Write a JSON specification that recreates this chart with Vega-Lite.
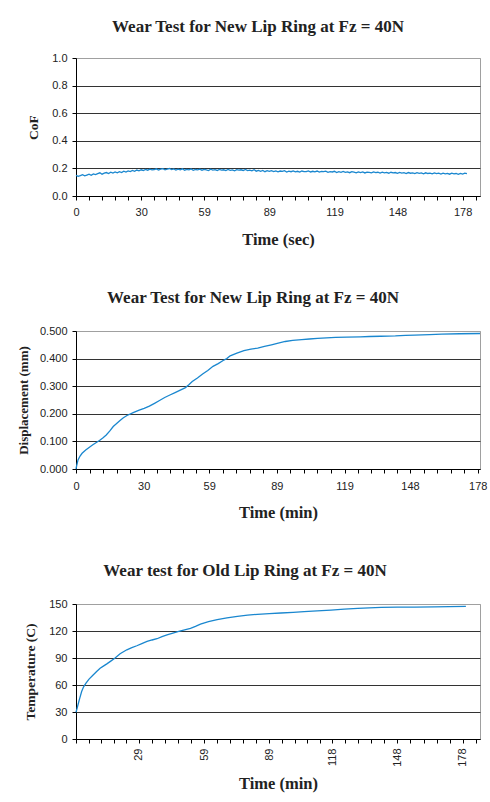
{
  "$schema": "https://vega.github.io/schema/vega-lite/v6.json",
  "padding": {"left": 16, "top": 17, "right": 0, "bottom": 0},
  "background": "white",
  "columns": 1,
  "spacing": 40,
  "config": {
    "view": {"stroke": "#a0a0a0", "strokeWidth": 1},
    "axis": {"labelFont": "Liberation Sans", "labelFontSize": 11, "labelColor": "#222", "titleFont": "Liberation Serif", "titleFontWeight": "bold", "titleColor": "#222", "domainColor": "#000", "tickColor": "#000", "tickSize": 4, "gridColor": "#333", "gridOpacity": 1, "labelFlush": false, "labelOverlap": false},
    "axisX": {"titleFontSize": 16.5, "grid": false},
    "axisY": {"titleFontSize": 13.5, "grid": true},
    "title": {"font": "Liberation Serif", "fontSize": 17, "fontWeight": "bold", "color": "#222"}
  },
  "concat": [
    {
      "width": 404, "height": 138,
      "title": {"text": "Wear Test for New Lip Ring at Fz = 40N", "offset": 16, "dx": -20},
      "data": {"values": [
        {"t":0,"v":0.150},{"t":1,"v":0.142},{"t":2,"v":0.148},{"t":3,"v":0.155},{"t":4,"v":0.146},{"t":5,"v":0.152},{"t":6,"v":0.158},{"t":7,"v":0.150},{"t":8,"v":0.160},{"t":9,"v":0.155},
        {"t":10,"v":0.162},{"t":11,"v":0.168},{"t":12,"v":0.158},{"t":13,"v":0.165},{"t":14,"v":0.170},{"t":15,"v":0.163},{"t":16,"v":0.172},{"t":17,"v":0.166},{"t":18,"v":0.174},{"t":19,"v":0.168},
        {"t":20,"v":0.176},{"t":21,"v":0.170},{"t":22,"v":0.180},{"t":23,"v":0.174},{"t":24,"v":0.182},{"t":25,"v":0.177},{"t":26,"v":0.185},{"t":27,"v":0.179},{"t":28,"v":0.188},{"t":29,"v":0.182},
        {"t":30,"v":0.190},{"t":31,"v":0.185},{"t":32,"v":0.193},{"t":33,"v":0.187},{"t":34,"v":0.195},{"t":35,"v":0.189},{"t":36,"v":0.192},{"t":37,"v":0.197},{"t":38,"v":0.188},{"t":39,"v":0.194},
        {"t":40,"v":0.198},{"t":41,"v":0.190},{"t":42,"v":0.195},{"t":43,"v":0.199},{"t":44,"v":0.191},{"t":45,"v":0.196},{"t":46,"v":0.188},{"t":47,"v":0.194},{"t":48,"v":0.190},{"t":49,"v":0.197},
        {"t":50,"v":0.187},{"t":51,"v":0.193},{"t":52,"v":0.189},{"t":53,"v":0.196},{"t":54,"v":0.186},{"t":55,"v":0.192},{"t":56,"v":0.190},{"t":57,"v":0.195},{"t":58,"v":0.187},{"t":59,"v":0.193},
        {"t":60,"v":0.189},{"t":61,"v":0.184},{"t":62,"v":0.194},{"t":63,"v":0.188},{"t":64,"v":0.191},{"t":65,"v":0.185},{"t":66,"v":0.193},{"t":67,"v":0.187},{"t":68,"v":0.190},{"t":69,"v":0.184},
        {"t":70,"v":0.192},{"t":71,"v":0.186},{"t":72,"v":0.189},{"t":73,"v":0.183},{"t":74,"v":0.191},{"t":75,"v":0.187},{"t":76,"v":0.190},{"t":77,"v":0.185},{"t":78,"v":0.193},{"t":79,"v":0.184},
        {"t":80,"v":0.188},{"t":81,"v":0.182},{"t":82,"v":0.190},{"t":83,"v":0.180},{"t":84,"v":0.186},{"t":85,"v":0.179},{"t":86,"v":0.185},{"t":87,"v":0.176},{"t":88,"v":0.183},{"t":89,"v":0.178},
        {"t":90,"v":0.184},{"t":91,"v":0.177},{"t":92,"v":0.182},{"t":93,"v":0.175},{"t":94,"v":0.181},{"t":95,"v":0.178},{"t":96,"v":0.183},{"t":97,"v":0.174},{"t":98,"v":0.180},{"t":99,"v":0.176},
        {"t":100,"v":0.182},{"t":101,"v":0.175},{"t":102,"v":0.179},{"t":103,"v":0.173},{"t":104,"v":0.181},{"t":105,"v":0.177},{"t":106,"v":0.176},{"t":107,"v":0.182},{"t":108,"v":0.174},{"t":109,"v":0.179},
        {"t":110,"v":0.175},{"t":111,"v":0.181},{"t":112,"v":0.173},{"t":113,"v":0.178},{"t":114,"v":0.176},{"t":115,"v":0.180},{"t":116,"v":0.172},{"t":117,"v":0.177},{"t":118,"v":0.174},{"t":119,"v":0.179},
        {"t":120,"v":0.170},{"t":121,"v":0.176},{"t":122,"v":0.172},{"t":123,"v":0.178},{"t":124,"v":0.171},{"t":125,"v":0.175},{"t":126,"v":0.169},{"t":127,"v":0.177},{"t":128,"v":0.173},{"t":129,"v":0.168},
        {"t":130,"v":0.175},{"t":131,"v":0.170},{"t":132,"v":0.174},{"t":133,"v":0.167},{"t":134,"v":0.173},{"t":135,"v":0.171},{"t":136,"v":0.168},{"t":137,"v":0.174},{"t":138,"v":0.169},{"t":139,"v":0.172},
        {"t":140,"v":0.166},{"t":141,"v":0.173},{"t":142,"v":0.168},{"t":143,"v":0.171},{"t":144,"v":0.165},{"t":145,"v":0.172},{"t":146,"v":0.167},{"t":147,"v":0.170},{"t":148,"v":0.164},{"t":149,"v":0.171},
        {"t":150,"v":0.166},{"t":151,"v":0.169},{"t":152,"v":0.163},{"t":153,"v":0.170},{"t":154,"v":0.165},{"t":155,"v":0.168},{"t":156,"v":0.162},{"t":157,"v":0.169},{"t":158,"v":0.164},{"t":159,"v":0.167},
        {"t":160,"v":0.161},{"t":161,"v":0.168},{"t":162,"v":0.163},{"t":163,"v":0.166},{"t":164,"v":0.160},{"t":165,"v":0.167},{"t":166,"v":0.162},{"t":167,"v":0.165},{"t":168,"v":0.159},{"t":169,"v":0.166},
        {"t":170,"v":0.161},{"t":171,"v":0.164},{"t":172,"v":0.158},{"t":173,"v":0.165},{"t":174,"v":0.160},{"t":175,"v":0.163},{"t":176,"v":0.157},{"t":177,"v":0.164},{"t":178,"v":0.159},{"t":179,"v":0.165},
        {"t":180,"v":0.162}
      ]},
      "mark": {"type": "line", "color": "#1a87cf", "strokeWidth": 1.3},
      "encoding": {
        "x": {"field": "t", "type": "quantitative", "scale": {"domain": [0, 186], "nice": false, "zero": false},
          "axis": {"title": "Time (sec)", "values": [0,6,12,18,24,30,35.8,41.6,47.4,53.2,59,65,71,77,83,89,95,101,107,113,119,124.8,130.6,136.4,142.2,148,154,160,166,172,178,184],
            "labelExpr": "indexof([0,30,59,89,119,148,178], datum.value) >= 0 ? '' + datum.value : ''", "labelPadding": 6, "titlePadding": 14}},
        "y": {"field": "v", "type": "quantitative", "scale": {"domain": [0, 1], "nice": false},
          "axis": {"title": "CoF", "values": [0,0.2,0.4,0.6,0.8,1], "format": ".1f", "labelPadding": 5, "titlePadding": 11,
            "gridColor": {"condition": {"test": "datum.value >= 1", "value": "#a0a0a0"}, "value": "#333333"}}}
      }
    },
    {
      "width": 404, "height": 138,
      "title": {"text": "Wear Test for New Lip Ring at Fz = 40N", "offset": 18, "dx": -25},
      "data": {"values": [
        {"t":0,"v":0},{"t":0.3,"v":0.012},{"t":0.9,"v":0.033},{"t":1.8,"v":0.047},{"t":2.7,"v":0.057},{"t":4.3,"v":0.069},{"t":5.8,"v":0.078},{"t":7.3,"v":0.087},{"t":9,"v":0.096},{"t":10.4,"v":0.103},
        {"t":12,"v":0.113},{"t":13.4,"v":0.123},{"t":15,"v":0.138},{"t":16.5,"v":0.154},{"t":18,"v":0.165},{"t":19.5,"v":0.176},{"t":21,"v":0.186},{"t":22.6,"v":0.194},{"t":25.6,"v":0.205},{"t":28,"v":0.213},
        {"t":30.2,"v":0.220},{"t":32.5,"v":0.228},{"t":34.8,"v":0.238},{"t":37,"v":0.248},{"t":39.3,"v":0.259},{"t":41.6,"v":0.268},{"t":43.9,"v":0.277},{"t":46.2,"v":0.286},{"t":48.5,"v":0.295},{"t":50,"v":0.305},
        {"t":51.5,"v":0.317},{"t":53.8,"v":0.330},{"t":56.1,"v":0.344},{"t":58.4,"v":0.357},{"t":60.7,"v":0.372},{"t":63,"v":0.382},{"t":65.2,"v":0.393},{"t":66.8,"v":0.400},{"t":68.3,"v":0.410},{"t":71.3,"v":0.420},
        {"t":74.4,"v":0.429},{"t":77.5,"v":0.434},{"t":80.5,"v":0.438},{"t":83.5,"v":0.444},{"t":86.6,"v":0.450},{"t":89.6,"v":0.456},{"t":92.7,"v":0.462},{"t":96,"v":0.466},{"t":100,"v":0.469},{"t":103.4,"v":0.471},
        {"t":107,"v":0.473},{"t":111,"v":0.475},{"t":115,"v":0.477},{"t":120,"v":0.478},{"t":126,"v":0.479},{"t":130,"v":0.480},{"t":135,"v":0.481},{"t":141.5,"v":0.482},{"t":146,"v":0.484},{"t":150,"v":0.485},
        {"t":156.7,"v":0.487},{"t":162,"v":0.489},{"t":170,"v":0.490},{"t":179,"v":0.491}
      ]},
      "mark": {"type": "line", "color": "#1a87cf", "strokeWidth": 1.3},
      "encoding": {
        "x": {"field": "t", "type": "quantitative", "scale": {"domain": [0, 179], "nice": false, "zero": false},
          "axis": {"title": "Time (min)", "values": [0,6,12,18,24,30,35.8,41.6,47.4,53.2,59,65,71,77,83,89,95,101,107,113,119,124.8,130.6,136.4,142.2,148,154,160,166,172,178],
            "labelExpr": "indexof([0,30,59,89,119,148,178], datum.value) >= 0 ? '' + datum.value : ''", "labelPadding": 7, "titlePadding": 13}},
        "y": {"field": "v", "type": "quantitative", "scale": {"domain": [0, 0.5], "nice": false},
          "axis": {"title": "Displacement (mm)", "titleFontSize": 13, "values": [0,0.1,0.2,0.3,0.4,0.5], "format": ".3f", "labelPadding": 5, "titlePadding": 9,
            "gridColor": {"condition": {"test": "datum.value >= 0.5", "value": "#a0a0a0"}, "value": "#333333"}}}
      }
    },
    {
      "width": 404, "height": 135,
      "title": {"text": "Wear test for Old Lip Ring at Fz = 40N", "offset": 18, "dx": -33},
      "data": {"values": [
        {"t":0,"v":29.7},{"t":0.5,"v":34},{"t":1.1,"v":39.7},{"t":1.8,"v":46},{"t":2.6,"v":52.7},{"t":3.5,"v":58},{"t":4.6,"v":62},{"t":6,"v":66.5},{"t":8,"v":71.3},{"t":9.5,"v":75},
        {"t":11.1,"v":78.7},{"t":12.6,"v":81},{"t":14.2,"v":83.5},{"t":16,"v":86.5},{"t":18,"v":89.9},{"t":20.3,"v":94.7},{"t":23.4,"v":99.1},{"t":25.7,"v":101.5},{"t":28,"v":103.6},{"t":30.3,"v":106},
        {"t":32.7,"v":108.4},{"t":35,"v":110},{"t":37.3,"v":111.4},{"t":39.6,"v":113.8},{"t":41.9,"v":115.8},{"t":44.6,"v":117.7},{"t":47.3,"v":119.6},{"t":50,"v":121.2},{"t":52.7,"v":122.9},{"t":55,"v":125.2},
        {"t":57.3,"v":127.7},{"t":61,"v":130.3},{"t":65,"v":132.6},{"t":69.5,"v":134.5},{"t":74.3,"v":136.3},{"t":79,"v":137.6},{"t":83.5,"v":138.5},{"t":89,"v":139.2},{"t":94.3,"v":140},{"t":100,"v":140.8},
        {"t":105,"v":141.5},{"t":111,"v":142.4},{"t":117.4,"v":143.3},{"t":123.5,"v":144.2},{"t":129.7,"v":145.1},{"t":135,"v":145.7},{"t":140.5,"v":146.2},{"t":148,"v":146.5},{"t":156,"v":146.6},{"t":165,"v":146.9},
        {"t":172,"v":147.1},{"t":179.5,"v":147.4}
      ]},
      "mark": {"type": "line", "color": "#1a87cf", "strokeWidth": 1.3},
      "encoding": {
        "x": {"field": "t", "type": "quantitative", "scale": {"domain": [0, 186], "nice": false, "zero": false},
          "axis": {"title": "Time (min)", "values": [0,5.8,11.6,17.4,23.2,29,35,41,47,53,59,65,71,77,83,89,94.8,100.6,106.4,112.2,118,124,130,136,142,148,154,160,166,172,178,184],
            "labelExpr": "indexof([29,59,89,118,148,178], datum.value) >= 0 ? '' + datum.value : ''", "labelAngle": 270, "labelPadding": 5, "titlePadding": 9}},
        "y": {"field": "v", "type": "quantitative", "scale": {"domain": [0, 150], "nice": false},
          "axis": {"title": "Temperature (C)", "values": [0,30,60,90,120,150], "format": "d", "labelPadding": 5, "titlePadding": 11,
            "gridColor": {"condition": {"test": "datum.value >= 150", "value": "#a0a0a0"}, "value": "#333333"}}}
      }
    }
  ]
}
